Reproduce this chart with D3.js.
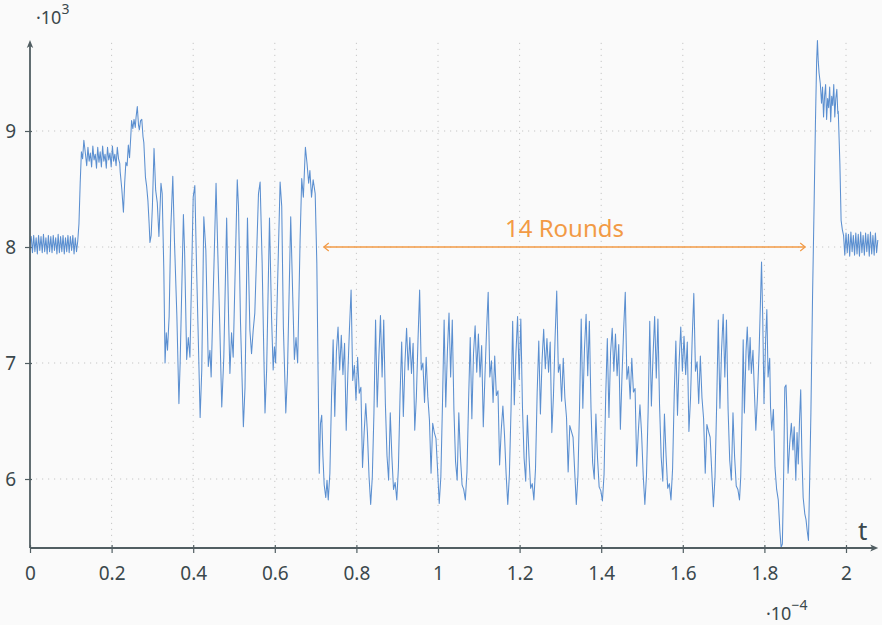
<!DOCTYPE html>
<html><head><meta charset="utf-8">
<script src="https://cdn.jsdelivr.net/npm/d3@7"></script>
<style>
html,body{margin:0;padding:0;background:#fafafa;}
svg{display:block;font-family:"Noto Sans","Open Sans",sans-serif;}
</style></head><body>
<svg id="chart" width="882" height="625"></svg>
<script>
// ---- data (t in 1e-4 s, values in 1e3) ----
const xTicks = [0,0.2,0.4,0.6,0.8,1,1.2,1.4,1.6,1.8,2];
const xTickLabels = ["0","0.2","0.4","0.6","0.8","1","1.2","1.4","1.6","1.8","2"];
const yTicks = [6,7,8,9];
const yTickLabels = ["6","7","8","9"];
const xExtent = [0, 2.079];
const yExtent = [5.405, 9.784];
const roundsSpan = [0.72, 1.90];
const roundsLevel = 8.0;
const roundsLabel = "14 Rounds";

// idle before start: t0 = 0, step 0.003
const idleStartV = [8.03,8.09,7.95,8.10,7.96,8.08,7.94,8.10,7.97,8.09,7.95,8.11,7.96,8.08,7.94,8.10,7.96,8.09,7.95,8.10,7.97,8.08,7.94,8.11,7.95,8.09,7.96,8.10,7.94,8.08,7.96,8.10,7.95,8.09,7.97,8.10,7.94,8.08,7.96,8.05];
const stepT = [0.120,0.123,0.126,0.129,0.132];
const stepV = [8.20,8.55,8.82,8.76,8.92];
// first plateau: t0 = 0.136, step 0.003
const plateauV = [8.80,8.70,8.86,8.74,8.81,8.69,8.87,8.75,8.80,8.68,8.86,8.73,8.82,8.69,8.87,8.74,8.80,8.68,8.86,8.75,8.81,8.69,8.87,8.74,8.80,8.70,8.86,8.76,8.72];
// key schedule burst
const burstT = [0.221,0.225,0.229,0.232,0.235,0.238,0.241,0.244,0.247,0.249,0.252,0.255,0.258,0.260,0.263,0.266,0.268,0.271,0.274,0.277,0.279,0.283,0.286,0.289,0.292,0.294,0.297,0.300,0.304,0.308,0.312,0.316,0.321,0.324,0.328,0.331,0.334,0.337,0.341,0.345,0.350,0.354,0.360,0.365,0.368,0.376,0.379,0.384,0.388,0.392,0.400,0.404,0.408,0.412,0.417,0.421,0.426,0.431,0.437,0.441,0.444,0.451,0.456,0.461,0.465,0.470,0.475,0.482,0.487,0.490,0.494,0.498,0.508,0.511,0.516,0.523,0.527,0.533,0.539,0.543,0.547,0.551,0.560,0.564,0.569,0.572,0.576,0.580,0.587,0.592,0.596,0.599,0.602,0.613,0.617,0.621,0.627,0.631,0.639,0.644,0.648,0.652,0.656,0.662,0.666,0.670,0.675,0.679,0.683,0.686,0.690,0.694,0.699,0.703,0.706,0.709,0.712,0.715,0.718,0.721,0.725,0.728];
const burstV = [8.65,8.50,8.30,8.55,8.73,8.70,8.88,8.77,8.95,9.09,9.02,9.10,9.03,9.12,9.21,9.05,9.01,9.09,9.10,8.95,8.90,8.60,8.52,8.40,8.20,8.04,8.10,8.35,8.85,8.49,8.38,8.09,8.55,8.46,7.80,7.00,7.26,7.11,7.40,8.15,8.61,8.06,7.40,6.65,7.00,8.28,7.95,7.03,7.22,7.05,8.43,8.53,7.86,7.28,6.53,6.94,8.26,7.97,6.97,7.11,6.88,7.86,8.55,7.86,7.34,6.62,7.05,8.25,7.34,6.91,7.26,7.05,8.58,8.35,7.34,6.45,6.79,8.25,7.28,7.08,7.28,7.43,8.46,8.56,7.86,7.28,6.57,6.94,8.25,7.40,6.94,7.14,7.00,8.56,8.35,7.31,6.57,6.91,8.26,7.57,7.03,7.22,7.00,8.06,8.59,8.43,8.86,8.72,8.55,8.66,8.43,8.58,8.46,7.86,6.94,6.05,6.48,6.55,6.19,5.95,5.84,5.99];
// rounds (two rounds per cycle): t0 = 0.731, step 0.004
const cycle1 = [5.82,6.05,6.70,7.20,6.54,7.10,7.31,6.94,7.24,6.90,7.17,6.42,6.90,7.30,7.63,6.85,6.98,6.68,7.05,6.74,6.79,6.10,6.40,6.65,6.40,6.02,5.78,6.02,6.57,7.37,6.62,7.05,7.41,6.88,7.37,6.65,6.20,5.99,6.57,6.19,5.91,5.97];
const cycle2 = [5.82,6.10,6.72,7.18,6.54,7.00,7.30,6.94,7.22,6.91,7.17,6.42,6.71,7.20,7.63,6.94,7.00,6.66,7.05,6.71,6.51,6.05,6.48,6.40,6.35,6.08,5.79,6.02,6.65,7.37,6.62,7.10,7.43,6.88,7.37,6.60,6.15,5.99,6.57,6.19,5.95,5.91];
const cycle3 = [5.82,6.06,6.68,7.22,6.52,7.08,7.32,6.92,7.25,6.88,7.15,6.45,6.88,7.28,7.61,6.88,7.02,6.66,7.06,6.72,6.76,6.12,6.42,6.63,6.38,6.04,5.78,6.04,6.60,7.36,6.64,7.08,7.40,6.86,7.38,6.62,6.18,5.98,6.55,6.20,5.92,5.96];
const cycle4 = [5.82,6.09,6.74,7.19,6.56,7.02,7.29,6.95,7.21,6.92,7.18,6.40,6.72,7.22,7.62,6.92,6.99,6.67,7.04,6.70,6.53,6.06,6.46,6.41,6.36,6.07,5.78,6.03,6.63,7.38,6.61,7.12,7.42,6.89,7.36,6.61,6.14,6.00,6.56,6.18,5.93,5.90];
const cycle5 = [5.81,6.04,6.71,7.21,6.53,7.09,7.30,6.93,7.25,6.89,7.16,6.43,6.89,7.29,7.61,6.86,6.97,6.69,7.04,6.75,6.78,6.11,6.41,6.64,6.39,6.03,5.78,6.03,6.58,7.36,6.63,7.06,7.40,6.87,7.38,6.64,6.19,5.98,6.56,6.20,5.92,5.96];
const cycle6 = [5.82,6.09,6.73,7.19,6.55,7.01,7.31,6.93,7.23,6.90,7.18,6.41,6.70,7.21,7.60,6.93,7.01,6.65,7.06,6.70,6.52,6.05,6.47,6.41,6.36,6.06,5.76,6.02,6.64,7.37,6.61,7.11,7.42,6.88,7.37,6.60,6.16,5.99,6.57,6.19,5.94,5.91];
// last round, final permutation, output
const tailT = [1.739,1.742,1.745,1.748,1.751,1.755,1.758,1.762,1.765,1.768,1.772,1.775,1.779,1.783,1.787,1.793,1.796,1.799,1.803,1.806,1.809,1.813,1.815,1.818,1.822,1.826,1.830,1.834,1.838,1.841,1.844,1.847,1.850,1.853,1.855,1.858,1.862,1.866,1.870,1.873,1.877,1.880,1.883,1.886,1.889,1.892,1.895,1.899,1.902,1.905,1.908,1.911,1.914,1.918,1.922,1.925,1.928,1.930,1.932,1.934,1.937];
const tailV = [5.82,6.02,6.51,7.20,6.57,7.10,7.31,6.94,7.22,6.91,7.11,6.80,6.42,6.71,7.10,7.87,7.37,6.65,7.20,7.46,6.88,7.04,6.62,6.42,6.60,6.10,5.91,5.82,5.55,5.41,5.44,5.99,6.79,6.81,6.60,6.05,6.30,6.48,6.25,6.45,5.99,6.40,6.13,6.50,6.77,6.19,5.84,5.70,5.65,5.55,5.47,6.00,6.57,7.57,8.40,9.05,9.60,9.78,9.60,9.50,9.41];
// second plateau: t0 = 1.940, step 0.0025
const peakV = [9.24,9.38,9.12,9.30,9.40,9.10,9.28,9.20,9.38,9.08,9.30,9.22,9.40,9.12,9.28,9.36,9.15];
const dropT = [1.981,1.985,1.988,1.991];
const dropV = [9.17,8.72,8.23,8.15];
// idle after end: t0 = 1.994, step 0.003
const idleEndV = [8.10,7.93,8.12,7.95,8.11,7.92,8.13,7.96,8.10,7.93,8.12,7.94,8.11,7.92,8.13,7.95,8.10,7.93,8.12,7.96,8.11,7.92,8.13,7.94,8.10,7.93,8.12,7.95,8.06];

// ---- build series ----
const uniform = (t0, dt, vals) => vals.map((v, i) => ({t: t0 + i * dt, v}));
const paired = (ts, vs) => ts.map((t, i) => ({t, v: vs[i]}));
const roundsV = [].concat(cycle1, cycle2, cycle3, cycle4, cycle5, cycle6);
const series = [].concat(
  uniform(0, 0.003, idleStartV),
  paired(stepT, stepV),
  uniform(0.136, 0.003, plateauV),
  paired(burstT, burstV),
  uniform(0.731, 0.004, roundsV),
  paired(tailT, tailV),
  uniform(1.940, 0.0025, peakV),
  paired(dropT, dropV),
  uniform(1.994, 0.003, idleEndV)
);

// ---- drawing ----
const svg = d3.select("#chart");
svg.append("rect").attr("width", 882).attr("height", 625).attr("fill", "#fafafa");
const x = d3.scaleLinear().domain([0, 2]).range([30, 846]);
const y = d3.scaleLinear().domain([6, 9]).range([479, 131]);

const axisColor = "#515e62";
const textColor = "#3b484c";
const gridColor = "#c6c6c6";

// grid
const grid = svg.append("g");
grid.selectAll("line.v").data(xTicks.filter(d => d > 0)).join("line")
  .attr("x1", d => x(d)).attr("x2", d => x(d))
  .attr("y1", y(9.76)).attr("y2", y(yExtent[0]))
  .attr("stroke", gridColor).attr("stroke-width", 1).attr("stroke-dasharray", "1.2,4.8");
grid.selectAll("line.h").data(yTicks).join("line")
  .attr("x1", x(0)).attr("x2", x(2.066))
  .attr("y1", d => y(d)).attr("y2", d => y(d))
  .attr("stroke", gridColor).attr("stroke-width", 1).attr("stroke-dasharray", "1.2,4.8");

// axes via d3 axis generators
const xAxis = d3.axisBottom(x).tickValues(xTicks).tickFormat((d, i) => xTickLabels[i]).tickSizeInner(5).tickSizeOuter(0).tickPadding(0);
const gx = svg.append("g").attr("transform", `translate(0,${y(yExtent[0])})`).call(xAxis);
gx.select(".domain").remove();
gx.selectAll(".tick line").attr("y1", -3).attr("y2", 5).attr("stroke", axisColor).attr("stroke-width", 1.2);
gx.selectAll(".tick text").attr("y", 31.5).attr("dy", null).attr("fill", textColor)
  .style("font-size", "19px").style("font-family", '"Noto Sans","Open Sans",sans-serif');

const yAxis = d3.axisLeft(y).tickValues(yTicks).tickFormat((d, i) => yTickLabels[i]).tickSizeInner(5).tickSizeOuter(0).tickPadding(0);
const gy = svg.append("g").attr("transform", `translate(${x(0)},0)`).call(yAxis);
gy.select(".domain").remove();
gy.selectAll(".tick line").attr("x1", -5).attr("x2", 2).attr("stroke", axisColor).attr("stroke-width", 1.2);
gy.selectAll(".tick text").attr("x", -14).attr("dy", "0.36em").attr("fill", textColor)
  .style("font-size", "19px").style("font-family", '"Noto Sans","Open Sans",sans-serif');

// signal
const line = d3.line().x(d => x(d.t)).y(d => y(d.v));
svg.append("path").datum(series).attr("d", line)
  .attr("fill", "none").attr("stroke", "#5b8fd0").attr("stroke-width", 1.05)
  .attr("stroke-linejoin", "round");

// axis lines with arrow heads
const x0 = x(0), yb = y(yExtent[0]), xe = x(xExtent[1]), yt = y(yExtent[1]);
svg.append("line").attr("x1", x0).attr("x2", xe - 3).attr("y1", yb).attr("y2", yb)
  .attr("stroke", axisColor).attr("stroke-width", 1.8);
svg.append("line").attr("x1", x0).attr("x2", x0).attr("y1", yb).attr("y2", yt + 3)
  .attr("stroke", axisColor).attr("stroke-width", 1.8);
svg.append("path").attr("d", `M${xe},${yb} L${xe - 8},${yb - 3.6} L${xe - 6},${yb} L${xe - 8},${yb + 3.6} Z`).attr("fill", axisColor);
svg.append("path").attr("d", `M${x0},${yt} L${x0 - 3.2},${yt + 8} L${x0},${yt + 6} L${x0 + 3.2},${yt + 8} Z`).attr("fill", axisColor);

// axis labels
svg.append("text").attr("x", 858).attr("y", 540).attr("fill", textColor)
  .style("font-size", "26px").text("t");
const e3 = svg.append("text").attr("x", 36).attr("y", 24).attr("fill", textColor).style("font-size", "18px");
e3.append("tspan").text("·10");
e3.append("tspan").attr("dy", -10).style("font-size", "14px").text("3");
const e4 = svg.append("text").attr("x", 766).attr("y", 620).attr("fill", textColor).style("font-size", "18px");
e4.append("tspan").text("·10");
e4.append("tspan").attr("dy", -10).style("font-size", "14px").text("−4");

// 14 rounds annotation
const orange = "#f29a45";
const ax1 = x(roundsSpan[0]), ax2 = x(roundsSpan[1]), ay = y(roundsLevel);
svg.append("line").attr("x1", ax1).attr("x2", ax2).attr("y1", ay).attr("y2", ay)
  .attr("stroke", orange).attr("stroke-width", 1.3);
svg.append("path").attr("d", `M${ax1 + 5},${ay - 4} L${ax1},${ay} L${ax1 + 5},${ay + 4}`)
  .attr("fill", "none").attr("stroke", orange).attr("stroke-width", 1.2);
svg.append("path").attr("d", `M${ax2 - 5},${ay - 4} L${ax2},${ay} L${ax2 - 5},${ay + 4}`)
  .attr("fill", "none").attr("stroke", orange).attr("stroke-width", 1.2);
svg.append("text").attr("x", (ax1 + ax2) / 2).attr("y", ay - 10).attr("text-anchor", "middle")
  .attr("fill", orange).style("font-size", "24px").text(roundsLabel);
</script></body></html>
